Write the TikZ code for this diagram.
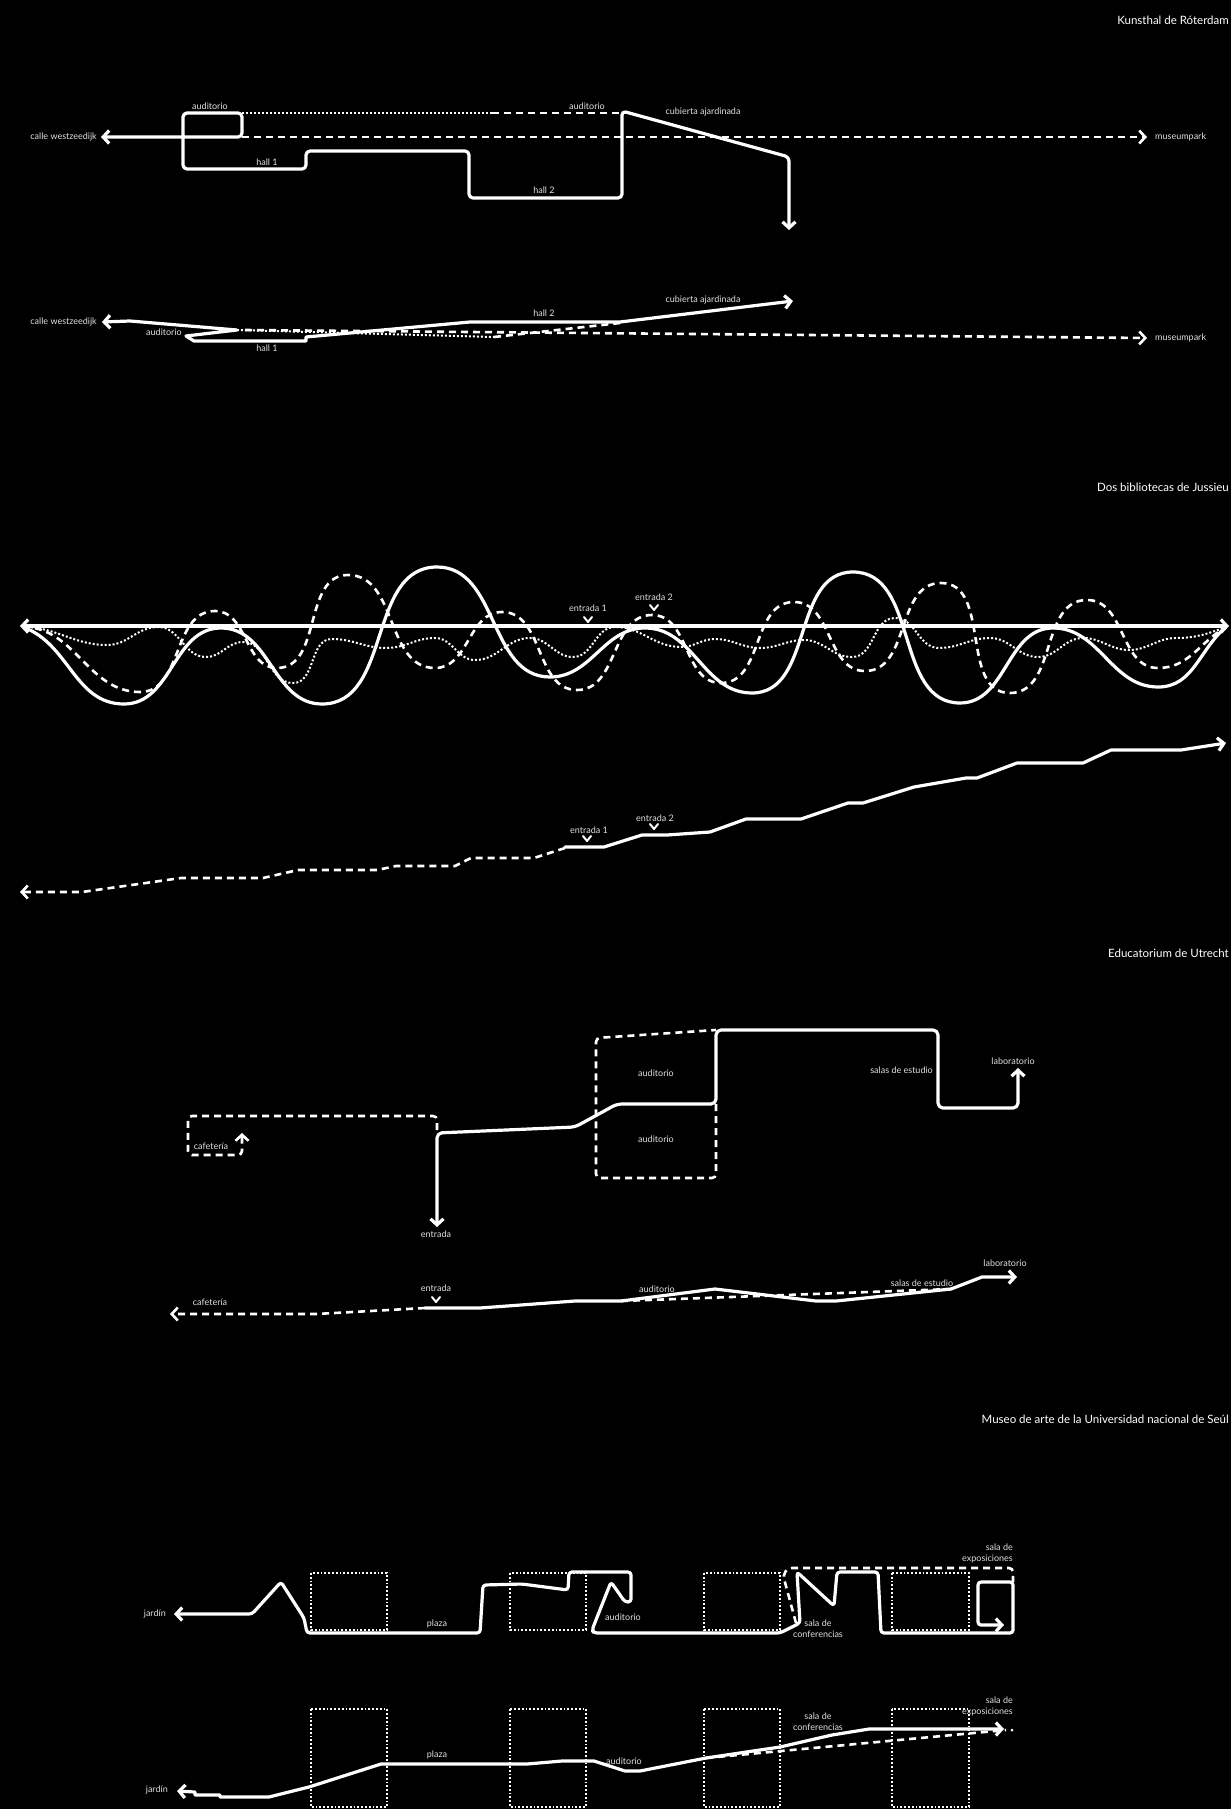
\documentclass[tikz,border=0pt]{standalone}
\usepackage{fontspec}
\setmainfont{Lato}
\usetikzlibrary{arrows.meta}
\begin{document}
\begin{tikzpicture}[x=1pt,y=-1pt,
  >={Straight Barb[length=6pt,width=13pt]},
  route/.style={draw=white,line width=3.2pt,line cap=round,line join=round},
  dashroute/.style={draw=white,line width=2.6pt,dash pattern=on 7pt off 5pt},
  dotroute/.style={draw=white,line width=2pt,dash pattern=on 2pt off 2pt},
  dotbox/.style={draw=white,line width=1.8pt,dash pattern=on 1.8pt off 2pt},
  lbl/.style={text=white!88!black,font=\fontsize{9}{10}\selectfont,inner sep=0pt},
  lbltwo/.style={lbl,font=\fontsize{9}{11}\selectfont},
  ttl/.style={text=white,font=\fontsize{11.5}{13}\selectfont,inner sep=0pt,anchor=east},
  chev/.style={draw=white,line width=2pt,line cap=round,line join=round}
]
\fill[black] (0,0) rectangle (1231,1809);
\useasboundingbox (0,0) rectangle (1231,1809);

% ===================== Kunsthal =====================
\node[ttl] (t1) at (1229,20) {Kunsthal de Róterdam};

\draw[dotroute] (242,113) -- (492,113);
\draw[dashroute] (492,113) -- (622,113);
\draw[dashroute,->] (242,137) -- (1147,137);
\draw[route,rounded corners=4pt,<->] (101,137) -- (242,137) -- (242,113) -- (183,113) -- (183,169) -- (306,169) -- (306,151) -- (469,151) -- (469,198) -- (622,198) -- (622,111) -- (789,157) -- (789,230);

\node[lbl,anchor=east] (k1a) at (97,137) {calle westzeedijk};
\node[lbl,anchor=west] (k1b) at (1155,137) {museumpark};
\node[lbl] (k1c) at (210,106) {auditorio};
\node[lbl] (k1d) at (587,106) {auditorio};
\node[lbl] (k1e) at (703,112) {cubierta ajardinada};
\node[lbl] (k1f) at (267,162) {hall 1};
\node[lbl] (k1g) at (544,190) {hall 2};

\draw[dotroute] (237,330) -- (494,337);
\draw[dashroute,->] (245,330) -- (1147,338);
\draw[dashroute] (494,337) -- (620,323);
\draw[route,<->] (102,322) -- (130,321) -- (237,330) -- (186,336) -- (194,341) -- (306,341) -- (306,337) -- (470,322) -- (620,322) -- (793,301);

\node[lbl,anchor=east] (k2a) at (97,322) {calle westzeedijk};
\node[lbl,anchor=west] (k2b) at (1155,338) {museumpark};
\node[lbl] (k2c) at (164,332) {auditorio};
\node[lbl] (k2d) at (267,348) {hall 1};
\node[lbl] (k2e) at (544,313) {hall 2};
\node[lbl] (k2f) at (703,300) {cubierta ajardinada};

% ===================== Jussieu =====================
\node[ttl] (t2) at (1229,487) {Dos bibliotecas de Jussieu};

\draw[dotroute] (23,627) to[out=0,in=180] (107,645) to[out=0,in=180] (158,627) to[out=0,in=180] (206,657) to[out=0,in=180] (243,642) to[out=0,in=180] (293,683) to[out=0,in=180] (332,639) to[out=0,in=180] (386,648) to[out=0,in=180] (435,638) to[out=0,in=180] (475,660) to[out=0,in=180] (530,638) to[out=0,in=180] (573,657) to[out=0,in=180] (615,627) to[out=0,in=180] (681,647) to[out=0,in=180] (715,639) to[out=0,in=180] (760,648) to[out=0,in=180] (804,640) to[out=0,in=180] (852,657) to[out=0,in=180] (895,618) to[out=0,in=180] (939,648) to[out=0,in=180] (990,638) to[out=0,in=180] (1038,657) to[out=0,in=180] (1083,638) to[out=0,in=180] (1129,650) to[out=0,in=180] (1176,638) to[out=0,in=200] (1226,627);

\draw[dashroute] (23,627) to[out=0,in=180] (140,692) to[out=0,in=180] (215,611) to[out=0,in=180] (277,668) to[out=0,in=180] (348,575) to[out=0,in=180] (435,668) to[out=0,in=180] (502,612) to[out=0,in=180] (577,690) to[out=0,in=180] (652,615) to[out=0,in=180] (721,683) to[out=0,in=180] (794,602) to[out=0,in=180] (865,671) to[out=0,in=180] (941,583) to[out=0,in=180] (1010,693) to[out=0,in=180] (1087,600) to[out=0,in=180] (1158,668) to[out=0,in=210] (1226,627);

\draw[route] (23,627) to[out=-20,in=180] (124,704) to[out=0,in=180] (221,628) to[out=0,in=180] (322,704) to[out=0,in=180] (437,567) to[out=0,in=180] (550,677) to[out=0,in=180] (645,628) to[out=0,in=180] (752,693) to[out=0,in=180] (853,572) to[out=0,in=180] (960,703) to[out=0,in=180] (1053,628) to[out=0,in=180] (1158,687) to[out=0,in=220] (1226,627);

\draw[route,<->] (20,626) -- (1229,626);

\node[lbl] (j1a) at (588,608) {entrada 1};
\draw[chev] (584,617) -- (588,622) -- (592,617);
\node[lbl] (j1b) at (654,597) {entrada 2};
\draw[chev] (650,605) -- (654,610) -- (658,605);

\draw[dashroute,->] (565,848) -- (534,858) -- (471,858) -- (455,866) -- (396,866) -- (377,870) -- (298,870) -- (263,878) -- (181,878) -- (82,892) -- (20,892);
\draw[route,->] (565,847) -- (604,847) -- (642,835) -- (667,835) -- (710,832) -- (746,819) -- (801,819) -- (848,803) -- (863,803) -- (914,787) -- (966,778) -- (977,778) -- (1017,763) -- (1083,763) -- (1111,750) -- (1181,750) -- (1226,743);

\node[lbl] (j2a) at (589,830) {entrada 1};
\draw[chev] (583,836) -- (587,841) -- (591,836);
\node[lbl] (j2b) at (655,818) {entrada 2};
\draw[chev] (650,824) -- (654,829) -- (658,824);

% ===================== Utrecht =====================
\node[ttl] (t3) at (1229,953) {Educatorium de Utrecht};

\draw[dashroute,rounded corners=4pt,->] (437,1130) -- (437,1116) -- (188,1116) -- (188,1155) -- (242,1155) -- (242,1133);
\draw[dashroute,rounded corners=4pt] (716,1104) -- (716,1178) -- (596,1178) -- (596,1038) -- (716,1030);
\draw[route,rounded corners=5pt,<->] (437,1227) -- (437,1133) -- (575,1127) -- (617,1104) -- (716,1104) -- (716,1030) -- (938,1030) -- (938,1108) -- (1018,1108) -- (1018,1068);

\node[lbl] (u1a) at (656,1073) {auditorio};
\node[lbl] (u1b) at (656,1139) {auditorio};
\node[lbl] (u1c) at (211,1146) {cafetería};
\node[lbl] (u1d) at (436,1234) {entrada};
\node[lbl,anchor=east] (u1e) at (933,1070) {salas de estudio};
\node[lbl] (u1f) at (1013,1061) {laboratorio};

\draw[dashroute,->] (425,1308) -- (316,1314) -- (170,1314);
\draw[route,->] (425,1308) -- (480,1308) -- (575,1301) -- (621,1301) -- (715,1289) -- (816,1301) -- (836,1301) -- (951,1289) -- (982,1277) -- (1017,1277);
\draw[dashroute] (621,1301) -- (951,1289);

\node[lbl] (u2a) at (210,1302) {cafetería};
\node[lbl] (u2b) at (436,1288) {entrada};
\draw[chev] (432,1297) -- (436,1302) -- (440,1297);
\node[lbl] (u2c) at (657,1289) {auditorio};
\node[lbl] (u2d) at (922,1283) {salas de estudio};
\node[lbl] (u2e) at (1005,1263) {laboratorio};

% ===================== Seul =====================
\node[ttl] (t4) at (1229,1419) {Museo de arte de la Universidad nacional de Seúl};

\foreach \xa/\xb in {311/387,510/586,704/780,892/969}{
  \draw[dotbox] (\xa,1573) rectangle (\xb,1630);
  \draw[dotbox] (\xa,1709) rectangle (\xb,1807);
}

\draw[dashroute,rounded corners=4pt] (796,1623) -- (783,1575) -- (788,1568) -- (1013,1568) -- (1013,1582);
\draw[route,rounded corners=3pt,<->] (174,1614) -- (252,1614) -- (281,1582) -- (304,1618) -- (307,1633) -- (480,1633) -- (483,1585) -- (522,1584) -- (568,1590) -- (569,1572) -- (631,1572) -- (631,1602) -- (625,1602) -- (611,1582) -- (592,1630) -- (594,1633) -- (780,1633) -- (800,1623) -- (797,1572) -- (834,1606) -- (837,1572) -- (878,1572) -- (881,1633) -- (1013,1633) -- (1013,1582) -- (978,1582) -- (978,1625) -- (1004,1625);

\node[lbl,anchor=east] (s1a) at (166,1614) {jardín};
\node[lbl] (s1b) at (437,1624) {plaza};
\node[lbl] (s1c) at (623,1617) {auditorio};
\node[lbltwo,align=center] (s1d) at (818,1629) {sala de\\conferencias};
\node[lbltwo,align=right,anchor=east] (s1e) at (1013,1553) {sala de\\exposiciones};

\draw[dashroute] (706,1758) -- (1006,1730);
\fill[white] (1012,1730) circle[radius=1.5pt];
\draw[route,<->] (177,1791) -- (195,1792) -- (195,1795) -- (220,1795) -- (220,1797) -- (269,1797) -- (309,1787) -- (381,1764) -- (527,1764) -- (562,1761) -- (594,1761) -- (625,1771) -- (640,1771) -- (706,1758) -- (780,1747) -- (832,1735) -- (869,1729) -- (1004,1729);

\node[lbl,anchor=east] (s2a) at (168,1790) {jardín};
\node[lbl] (s2b) at (437,1755) {plaza};
\node[lbl] (s2c) at (624,1761) {auditorio};
\node[lbltwo,align=center] (s2d) at (818,1722) {sala de\\conferencias};
\node[lbltwo,align=right,anchor=east] (s2e) at (1013,1706) {sala de\\exposiciones};
\end{tikzpicture}
\end{document}
